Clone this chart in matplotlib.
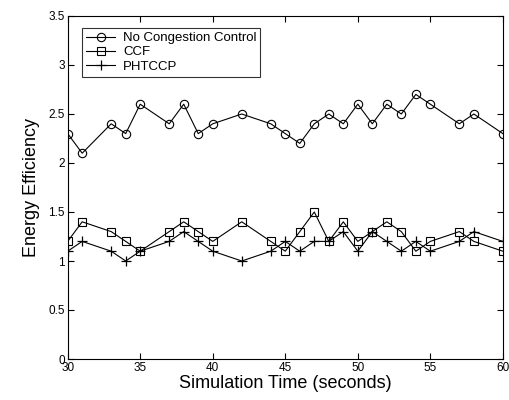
import matplotlib
matplotlib.use('Agg')
import matplotlib.pyplot as plt

plt.rcParams['font.family'] = ['Liberation Sans', 'DejaVu Sans']

# Simulation time (s) and energy efficiency per protocol
time = [30, 31, 33, 34, 35, 37, 38, 39, 40, 42, 44, 45, 46, 47, 48,
        49, 50, 51, 52, 53, 54, 55, 57, 58, 60]
no_cc = [2.3, 2.1, 2.4, 2.3, 2.6, 2.4, 2.6, 2.3, 2.4, 2.5, 2.4, 2.3, 2.2, 2.4, 2.5,
         2.4, 2.6, 2.4, 2.6, 2.5, 2.7, 2.6, 2.4, 2.5, 2.3]
ccf = [1.2, 1.4, 1.3, 1.2, 1.1, 1.3, 1.4, 1.3, 1.2, 1.4, 1.2, 1.1, 1.3, 1.5, 1.2,
       1.4, 1.2, 1.3, 1.4, 1.3, 1.1, 1.2, 1.3, 1.2, 1.1]
phtccp = [1.1, 1.2, 1.1, 1.0, 1.1, 1.2, 1.3, 1.2, 1.1, 1.0, 1.1, 1.2, 1.1, 1.2, 1.2,
          1.3, 1.1, 1.3, 1.2, 1.1, 1.2, 1.1, 1.2, 1.3, 1.2]

fig = plt.figure(figsize=(5.1, 4.0), dpi=100)
ax = fig.add_axes([0.1327, 0.1025, 0.8533, 0.8575])

ax.plot(time, no_cc, color='black', lw=0.8, marker='o', ms=6, mfc='none',
        mew=0.8, label='No Congestion Control')
ax.plot(time, ccf, color='black', lw=0.8, marker='s', ms=6, mfc='none',
        mew=0.8, label='CCF')
ax.plot(time, phtccp, color='black', lw=0.8, marker='+', ms=7,
        mew=0.9, label='PHTCCP')

ax.set_xlim(30, 60)
ax.set_ylim(0, 3.5)
ax.set_xticks([30, 35, 40, 45, 50, 55, 60])
ax.set_yticks([0, 0.5, 1, 1.5, 2, 2.5, 3, 3.5])
ax.set_yticklabels(['0', '0.5', '1', '1.5', '2', '2.5', '3', '3.5'])
ax.tick_params(direction='in', top=True, right=True, length=4, width=0.8,
               labelsize=8.5, pad=2)
for s in ax.spines.values():
    s.set_linewidth(0.8)

ax.set_xlabel('Simulation Time (seconds)', fontsize=13, labelpad=1)
ax.set_ylabel('Energy Efficiency', fontsize=13, labelpad=6)

leg = ax.legend(loc='upper left', fontsize=9.5, frameon=True, fancybox=False,
                edgecolor='black', handlelength=2.2, borderpad=0.3,
                labelspacing=0.15, handletextpad=0.6, borderaxespad=0,
                bbox_to_anchor=(0.033, 0.965))
leg.get_frame().set_linewidth(0.8)

fig.savefig('out.png', dpi=100)
